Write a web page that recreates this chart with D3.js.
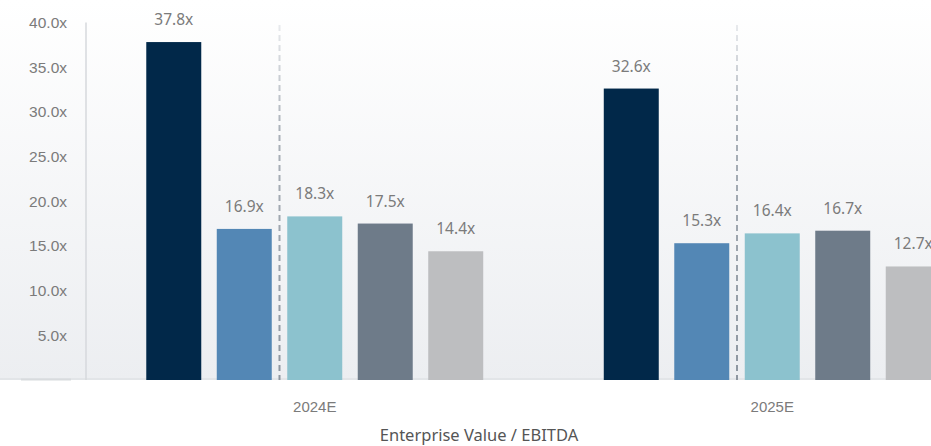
<!DOCTYPE html>
<html><head><meta charset="utf-8">
<script src="https://cdn.jsdelivr.net/npm/d3@7"></script>
<style>
html,body{margin:0;padding:0;background:#fff;overflow:hidden;}
svg{display:block;font-family:"Source Sans Pro","Noto Sans","Open Sans",sans-serif;}
</style></head>
<body>
<svg id="chart" width="931" height="446"></svg>
<script>
const categories = ["2024E", "2025E"];
const seriesNames = ["S1", "S2", "S3", "S4", "S5"];
const values2024 = [37.8, 16.9, 18.3, 17.5, 14.4];
const values2025 = [32.6, 15.3, 16.4, 16.7, 12.7];
const yTicks = [5, 10, 15, 20, 25, 30, 35, 40];
const colors = ["#012849", "#5387b5", "#8cc2ce", "#6e7b89", "#bdbec0"];
const axisTitle = "Enterprise Value / EBITDA";

const data = [values2024, values2025];
const svg = d3.select("#chart");
const W = 931, H = 446;
const x0 = 86, base = 380;

const defs = svg.append("defs");
const bg = defs.append("linearGradient").attr("id","bg").attr("x1",0).attr("y1",0).attr("x2",0).attr("y2",1);
bg.append("stop").attr("offset","0%").attr("stop-color","#ffffff");
bg.append("stop").attr("offset","100%").attr("stop-color","#eceef1");
const dg = defs.append("linearGradient").attr("id","dash").attr("gradientUnits","userSpaceOnUse")
  .attr("x1",0).attr("y1",25).attr("x2",0).attr("y2",base);
dg.append("stop").attr("offset","0%").attr("stop-color","#e8eaed");
dg.append("stop").attr("offset","30%").attr("stop-color","#a9b0b8");
dg.append("stop").attr("offset","100%").attr("stop-color","#8d96a0");

svg.append("rect").attr("x",0).attr("y",0).attr("width",W).attr("height",base).attr("fill","url(#bg)");

const x = d3.scaleBand().domain(categories).range([x0, x0 + 915]).paddingInner(0).paddingOuter(0);
const xi = d3.scaleBand().domain(seriesNames).range([0, x.bandwidth()]).paddingInner(0.22).paddingOuter(0.855);
const y = d3.scaleLinear().domain([0, 40]).range([base, 22.4]);

// baseline
svg.append("line").attr("x1",0).attr("x2",W).attr("y1",base-1).attr("y2",base-1)
  .attr("stroke","#dfe2e5").attr("stroke-width",1.5);
svg.append("line").attr("x1",21).attr("x2",71).attr("y1",base-0.5).attr("y2",base-0.5)
  .attr("stroke","#d8dbde").attr("stroke-width",2);

// y axis line
svg.append("line").attr("x1",x0).attr("x2",x0).attr("y1",y(40)).attr("y2",base)
  .attr("stroke","#d6d9dd").attr("stroke-width",1.5);

// y tick labels
const yAxis = d3.axisLeft(y).tickValues(yTicks).tickFormat(d => d.toFixed(1) + "x").tickSize(0).tickPadding(0);
const ya = svg.append("g").attr("transform", `translate(67,0)`).call(yAxis);
ya.select(".domain").remove();
ya.selectAll("text").attr("fill","#7b7b7b").style("font-size","15.5px").style("font-family","inherit");

// dashed separators
categories.forEach(c => {
  const xs = x(c) + (xi("S2") + xi.bandwidth() + xi("S3")) / 2;
  svg.append("line").attr("x1",xs).attr("x2",xs).attr("y1",25).attr("y2",base)
    .attr("stroke","url(#dash)").attr("stroke-width",2).attr("stroke-dasharray","6,4");
});

// bars
const g = svg.append("g");
categories.forEach((c, ci) => {
  const gg = g.append("g").attr("transform", `translate(${x(c)},0)`);
  gg.selectAll("rect").data(data[ci]).join("rect")
    .attr("x", (d,i) => xi(seriesNames[i]))
    .attr("y", d => y(d))
    .attr("width", xi.bandwidth())
    .attr("height", d => base - y(d))
    .attr("fill", (d,i) => colors[i]);
  gg.selectAll("text").data(data[ci]).join("text")
    .attr("x", (d,i) => xi(seriesNames[i]) + xi.bandwidth()/2)
    .attr("y", d => y(d) - 17)
    .attr("text-anchor","middle")
    .attr("fill","#7b7b7b").style("font-size","15.5px")
    .text(d => d.toFixed(1) + "x");
});

// category labels
const xAxis = d3.axisBottom(x).tickSize(0).tickPadding(0);
const xa = svg.append("g").attr("transform", `translate(0,${base})`).call(xAxis);
xa.select(".domain").remove();
xa.selectAll("text").attr("y", 32).attr("dy", 0).attr("fill","#7b7b7b").style("font-size","15px").style("font-family","inherit");

svg.append("text").attr("x", 479).attr("y", 441).attr("text-anchor","middle")
  .attr("fill","#555").style("font-size","16.5px").text(axisTitle);
</script>
</body></html>
